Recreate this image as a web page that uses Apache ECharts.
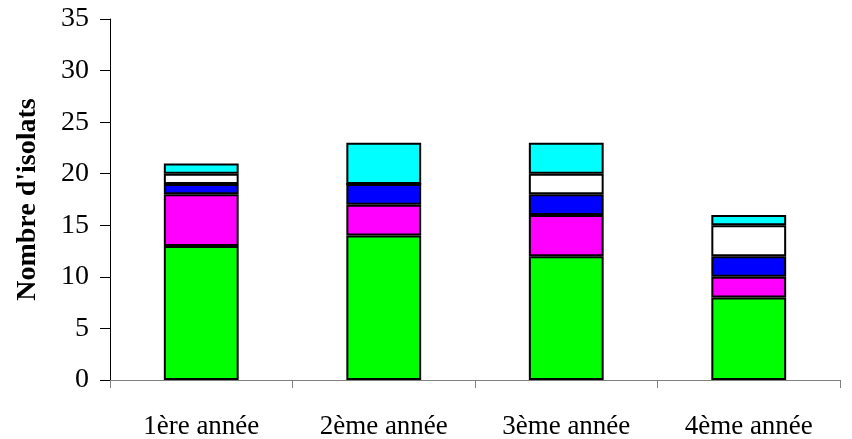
<!DOCTYPE html>
<html>
<head>
<meta charset="utf-8">
<script src="https://cdn.jsdelivr.net/npm/echarts@6/dist/echarts.min.js"></script>
<style>html,body{margin:0;padding:0;background:#fff}#c{width:852px;height:439px}</style>
</head>
<body>
<div id="c"></div>
<script>
var categories = ["1ère année", "2ème année", "3ème année", "4ème année"];
var greenVals = [13, 14, 12, 8];
var magentaVals = [5, 3, 4, 2];
var blueVals = [1, 2, 2, 2];
var whiteVals = [1, 0, 2, 3];
var cyanVals = [1, 4, 3, 1];
var yTicks = [0, 5, 10, 15, 20, 25, 30, 35];

var colors = ["#00FF00", "#FF00FF", "#0000FF", "#FFFFFF", "#00FFFF"];
var seriesData = [greenVals, magentaVals, blueVals, whiteVals, cyanVals];
var font = "'Liberation Serif', 'Times New Roman', serif";

var chart = echarts.init(document.getElementById('c'), null, {renderer: 'canvas'});
chart.setOption({
  animation: false,
  backgroundColor: '#fff',
  grid: {left: 110, right: 12, top: 19, bottom: 59, containLabel: false, outerBoundsMode: 'none'},
  xAxis: {
    type: 'category',
    data: categories,
    axisLine: {lineStyle: {color: '#808080', width: 1}},
    axisTick: {show: true, alignWithLabel: false, length: 8, lineStyle: {color: '#808080'}},
    axisLabel: {color: '#000', fontFamily: font, fontSize: 27, margin: 33}
  },
  yAxis: {
    type: 'value',
    min: yTicks[0], max: yTicks[yTicks.length - 1], interval: 5,
    name: "Nombre d'isolats",
    nameLocation: 'middle',
    nameGap: 68,
    nameTextStyle: {color: '#000', fontFamily: font, fontSize: 28, fontWeight: 'bold'},
    axisLine: {show: true, lineStyle: {color: '#000', width: 1}},
    axisTick: {show: true, length: 10, lineStyle: {color: '#000'}},
    axisLabel: {color: '#000', fontFamily: font, fontSize: 28, margin: 21},
    splitLine: {show: false}
  },
  series: seriesData.map(function (d, i) {
    return {
      type: 'bar',
      stack: 'total',
      data: d,
      barWidth: '41%',
      itemStyle: {color: colors[i], borderColor: '#000', borderWidth: 2}
    };
  })
});
</script>
</body>
</html>
